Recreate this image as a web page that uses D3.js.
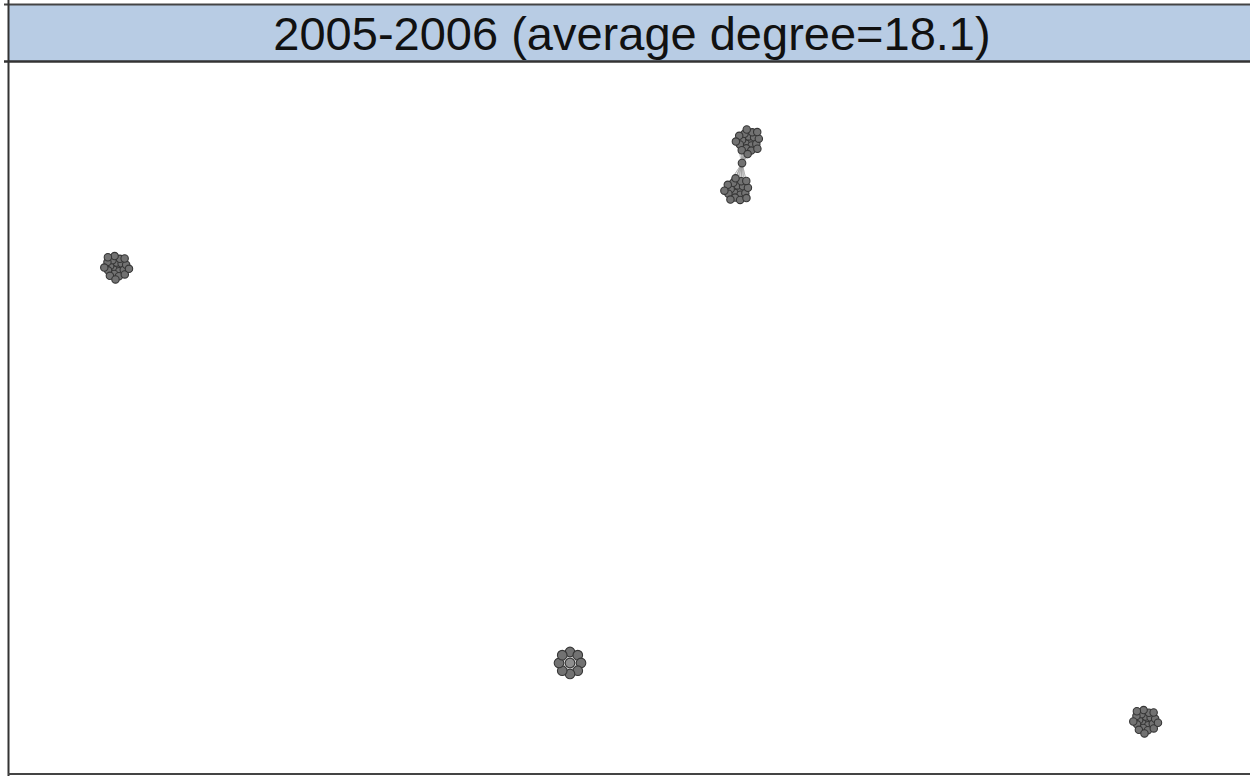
<!DOCTYPE html>
<html>
<head>
<meta charset="utf-8">
<script src="https://cdn.jsdelivr.net/npm/d3@7"></script>
<style>
  html, body { margin: 0; padding: 0; background: #ffffff; }
  svg { display: block; }
</style>
</head>
<body>
<svg id="chart" width="1250" height="776"></svg>
<script>
// Network snapshot: communities of co-authors, positioned in normalized layout space
const titleText = "2005-2006 (average degree=18.1)";
const clusterIds    = ["A", "B", "C", "D", "E"];
const clusterX      = [0.596, 0.587, 0.087, 0.4525, 0.9155];
const clusterY      = [0.111, 0.180, 0.288, 0.844, 0.9256];
const clusterSize   = [20, 19, 22, 9, 22];
const clusterShape  = ["disk", "disk", "disk", "ring", "disk"];
// Bridge node linking communities A and B
const bridgeX = [0.591];
const bridgeY = [0.142];
const bridgeLinks = [["A", "B"]];

const W = 1250, H = 776;
const frame = { left: 8, top: 62, right: 1250, bottom: 774 };
const nodeR = 3.7;
const golden = Math.PI * (3 - Math.sqrt(5));

const svg = d3.select("#chart");

const x = d3.scaleLinear().domain([0, 1]).range([frame.left, frame.right]);
const y = d3.scaleLinear().domain([0, 1]).range([frame.top, frame.bottom]);

// Build nodes per community
const nodes = [];
const clusters = clusterIds.map((id, i) => {
  const cx = x(clusterX[i]), cy = y(clusterY[i]);
  const n = clusterSize[i];
  let members;
  if (clusterShape[i] === "ring") {
    const ringR = 11;
    members = [{ x: 0, y: 0, r: 4.8, hub: true }];
    d3.range(n - 1).forEach(k => {
      const a = (k / (n - 1)) * 2 * Math.PI - Math.PI / 2;
      members.push({ x: ringR * Math.cos(a), y: ringR * Math.sin(a), r: 4.8 });
    });
  } else {
    // sunflower disk layout
    const c = 13.2 / Math.sqrt(n);
    members = d3.range(n).map(k => {
      const rr = c * Math.sqrt(k + 0.5), a = k * golden;
      return { x: rr * Math.cos(a), y: rr * Math.sin(a), r: nodeR };
    });
  }
  const list = members.map(m => {
    const node = { cluster: id, x: cx + m.x, y: cy + m.y, r: m.r, hub: !!m.hub };
    nodes.push(node);
    return node;
  });
  return { id, cx, cy, nodes: list };
});
const byId = new Map(clusters.map(c => [c.id, c]));

// Edges: dense within communities, plus bridge spokes
const links = [];
clusters.forEach(c => {
  for (let i = 0; i < c.nodes.length; i++)
    for (let j = i + 1; j < c.nodes.length; j++)
      links.push({ s: c.nodes[i], t: c.nodes[j], kind: "intra" });
});
const bridges = bridgeX.map((bx, i) => ({ x: x(bx), y: y(bridgeY[i]), r: 3.8 }));
bridges.forEach((b, i) => {
  bridgeLinks[i].forEach(cid => {
    byId.get(cid).nodes.forEach(t => links.push({ s: b, t, kind: "bridge" }));
  });
});

// Background
svg.append("rect").attr("width", W).attr("height", H).attr("fill", "#ffffff");

// Title band
svg.append("rect")
  .attr("x", frame.left).attr("y", 5)
  .attr("width", W - frame.left).attr("height", 56)
  .attr("fill", "#b8cce4");

svg.append("text")
  .attr("x", 632).attr("y", 50)
  .attr("text-anchor", "middle")
  .attr("font-family", "'Liberation Sans', Arial, sans-serif")
  .attr("font-size", 47)
  .attr("fill", "#111111")
  .text(titleText);

// Frame lines
svg.append("line").attr("x1", 4).attr("x2", W).attr("y1", 4.5).attr("y2", 4.5)
  .attr("stroke", "#444444").attr("stroke-width", 2);
svg.append("line").attr("x1", 4).attr("x2", W).attr("y1", 61.5).attr("y2", 61.5)
  .attr("stroke", "#333333").attr("stroke-width", 2.5);
svg.append("line").attr("x1", 8.5).attr("x2", 8.5).attr("y1", 0).attr("y2", H)
  .attr("stroke", "#333333").attr("stroke-width", 2);
svg.append("line").attr("x1", frame.left).attr("x2", W).attr("y1", 774).attr("y2", 774)
  .attr("stroke", "#444444").attr("stroke-width", 2);

// Edges
const g = svg.append("g");
g.append("g").selectAll("line").data(links).join("line")
  .attr("x1", d => d.s.x).attr("y1", d => d.s.y)
  .attr("x2", d => d.t.x).attr("y2", d => d.t.y)
  .attr("stroke", d => d.kind === "bridge" ? "#9a9a9a" : "#8c8c8c")
  .attr("stroke-opacity", d => d.kind === "bridge" ? 0.55 : 0.5)
  .attr("stroke-width", d => d.kind === "bridge" ? 0.9 : 0.6);

// Nodes
g.append("g").selectAll("circle").data(nodes.concat(bridges)).join("circle")
  .attr("cx", d => d.x).attr("cy", d => d.y).attr("r", d => d.r)
  .attr("fill", d => d.hub ? "#8e8e8e" : "#727272")
  .attr("stroke", "#363636")
  .attr("stroke-width", 1.1);
</script>
</body>
</html>
